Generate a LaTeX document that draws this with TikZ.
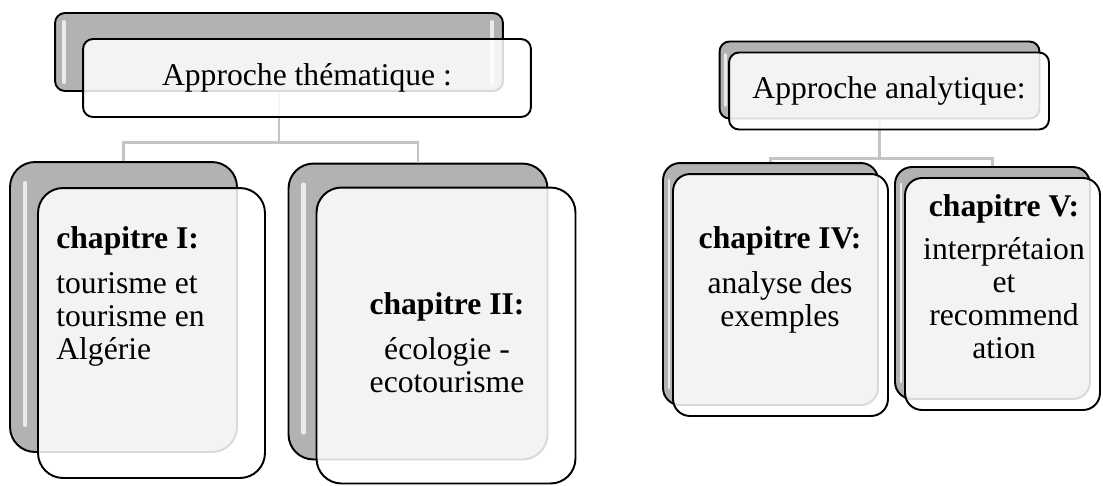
\documentclass[tikz,border=0pt]{standalone}
\usepackage{fontspec}
\setmainfont{Liberation Serif}
\definecolor{backgray}{HTML}{B2B2B2}
\definecolor{linkgray}{HTML}{C4C4C4}
\tikzset{
    backbox/.style={rectangle, draw=black, line width=1.1pt, fill=backgray},
    frontbox/.style={rectangle, draw=black, line width=1.1pt, fill=white, fill opacity=0.85, text opacity=1},
    shine/.style={white, line width=2.4pt, line cap=round, opacity=0.75},
    link/.style={linkgray, line width=1.7pt},
    chaptext/.style={inner sep=0pt, font=\fontsize{18}{18.8}\selectfont}
}
\begin{document}
\begin{tikzpicture}[x=0.02cm, y=-0.02cm]
    \useasboundingbox (0,0) rectangle (1103,485);

    % back shapes
    \node[backbox, minimum width=8.96cm, minimum height=1.56cm, rounded corners=0.2cm] (themaB) at (279,52) {};
    \node[backbox, minimum width=4.54cm, minimum height=5.8cm, rounded corners=0.5cm] (ch1B) at (123.5,307) {};
    \node[backbox, minimum width=5.18cm, minimum height=5.92cm, rounded corners=0.5cm] (ch2B) at (418,311.5) {};
    \node[backbox, minimum width=6.4cm, minimum height=1.54cm, rounded corners=0.2cm] (anaB) at (879.5,80) {};
    \node[backbox, minimum width=4.3cm, minimum height=4.84cm, rounded corners=0.34cm] (ch4B) at (770.5,284) {};
    \node[backbox, minimum width=3.9cm, minimum height=4.64cm, rounded corners=0.34cm] (ch5B) at (992.5,283) {};

    % highlights on the back shapes
    \draw[shine] ([shift={(10,10)}]themaB.north west) -- ([shift={(10,-10)}]themaB.south west);
    \draw[shine] ([shift={(-12,10)}]themaB.north east) -- ([shift={(-12,-10)}]themaB.south east);
    \draw[shine] ([shift={(16,22)}]ch1B.north west) -- ([shift={(16,-28)}]ch1B.south west);
    \draw[shine] ([shift={(16,22)}]ch2B.north west) -- ([shift={(16,-28)}]ch2B.south west);
    \draw[shine, line width=1.6pt] ([shift={(7,14)}]anaB.north west) -- ([shift={(7,-14)}]anaB.south west);
    \draw[shine, line width=1.6pt] ([shift={(7,18)}]ch4B.north west) -- ([shift={(7,-18)}]ch4B.south west);
    \draw[shine, line width=1.6pt] ([shift={(7,18)}]ch5B.north west) -- ([shift={(7,-18)}]ch5B.south west);

    % connectors
    \draw[link] (themaB.south) -- ++(0,51) -| (ch1B.north);
    \draw[link] (themaB.south) -- ++(0,51) -| (ch2B.north);
    \draw[link] (anaB.south) -- ++(0,39) -| (ch4B.north);
    \draw[link] (anaB.south) -- ++(0,39) -| (ch5B.north);

    % front shapes
    \node[frontbox, minimum width=8.96cm, minimum height=1.56cm, rounded corners=0.2cm, font=\fontsize{18}{18.8}\selectfont] (themaF) at (307,78) {Approche thématique :};
    \node[frontbox, minimum width=4.54cm, minimum height=5.8cm, rounded corners=0.5cm] (ch1F) at (151.5,333) {};
    \node[frontbox, minimum width=5.18cm, minimum height=5.92cm, rounded corners=0.5cm] (ch2F) at (446,335.5) {};
    \node[frontbox, minimum width=6.4cm, minimum height=1.54cm, rounded corners=0.2cm, font=\fontsize{18}{18.8}\selectfont] (anaF) at (889,91) {Approche analytique:};
    \node[frontbox, minimum width=4.3cm, minimum height=4.84cm, rounded corners=0.34cm] (ch4F) at (780.5,295) {};
    \node[frontbox, minimum width=3.9cm, minimum height=4.64cm, rounded corners=0.34cm] (ch5F) at (1002.5,294) {};

    % chapter texts
    \node[chaptext, anchor=north west, align=left] (ch1T) at (56,226) {\textbf{chapitre I:}\\[6.8pt]tourisme et\\tourisme en\\Algérie};
    \node[chaptext, anchor=north, align=center] (ch2T) at (447,292) {\textbf{chapitre II:}\\[6.8pt]écologie -\\ecotourisme};
    \node[chaptext, anchor=north, align=center] (ch4T) at (780,226) {\textbf{chapitre IV:}\\[6.8pt]analyse des\\exemples};
    \node[chaptext, anchor=north, align=center] (ch5T) at (1004,194) {\textbf{chapitre V:}\\[5.5pt]interprétaion\\et\\recommend\\ation};
\end{tikzpicture}
\end{document}
